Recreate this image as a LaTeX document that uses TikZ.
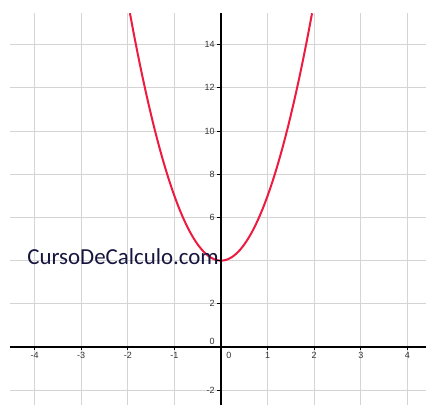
\documentclass[tikz,border=0pt]{standalone}
\usepackage{fontspec}
\setmainfont{Liberation Sans}
\newfontfamily\brandfont{Carlito}
\definecolor{gridgray}{HTML}{D4D4D4}
\definecolor{curvered}{HTML}{EE1A40}
\definecolor{navy}{HTML}{15153F}
\definecolor{labgray}{HTML}{333333}
\begin{document}
\begin{tikzpicture}[x=46.6pt,y=21.6pt,
  gridline/.style={gridgray,line width=0.8pt},
  axisline/.style={black,line width=1.5pt},
  ticklab/.style={font=\fontsize{9}{10}\selectfont,text=labgray,inner sep=0pt},
  tickmark/.style={black,line width=1pt}]
\useasboundingbox (-4.742,-2.685) rectangle (4.399,16.065);
\fill[white] (-4.742,-2.685) rectangle (4.399,16.065);
% grid
\foreach \i in {-4,...,4} \draw[gridline] (\i,-2.685) -- (\i,15.46);
\foreach \j in {-2,0,...,14} \draw[gridline] (-4.53,\j) -- (4.399,\j);
% curve
\draw[curvered,line width=2pt,domain=-1.954:1.954,samples=120,smooth] plot (\x,{3*\x*\x+4});
% brand text
\node[anchor=base west,inner sep=0pt,text=navy,font=\brandfont\fontsize{22.9}{26}\selectfont] (brand) at (-4.16,3.806) {CursoDeCalculo.com};
% axes
\coordinate (xl) at (-4.53,0);
\coordinate (xr) at (4.399,0);
\coordinate (yb) at (0,-2.685);
\coordinate (yt) at (0,15.46);
\draw[axisline] (xl) -- (xr);
\draw[axisline] (yb) -- (yt);
% x ticks
\foreach \i in {-4,-3,-2,-1,1,2,3,4} {
  \draw[tickmark] (\i,0) -- ++(0,-3pt);
  \node[ticklab] (xlab\i) at (\i,-0.37) {\i};
}
\node[ticklab] (xlab0) at (0.17,-0.37) {0};
% y ticks
\foreach \j in {-2,2,4,6,8,10,12,14} {
  \draw[tickmark] (0,\j) -- ++(-4pt,0);
}
\foreach \j in {-2,2,6,8,10,12,14} {
  \node[ticklab,anchor=east] (ylab\j) at (-0.13,\j) {\j};
}
\node[ticklab,anchor=east] (ylab0) at (-0.13,0.24) {0};
\end{tikzpicture}
\end{document}
